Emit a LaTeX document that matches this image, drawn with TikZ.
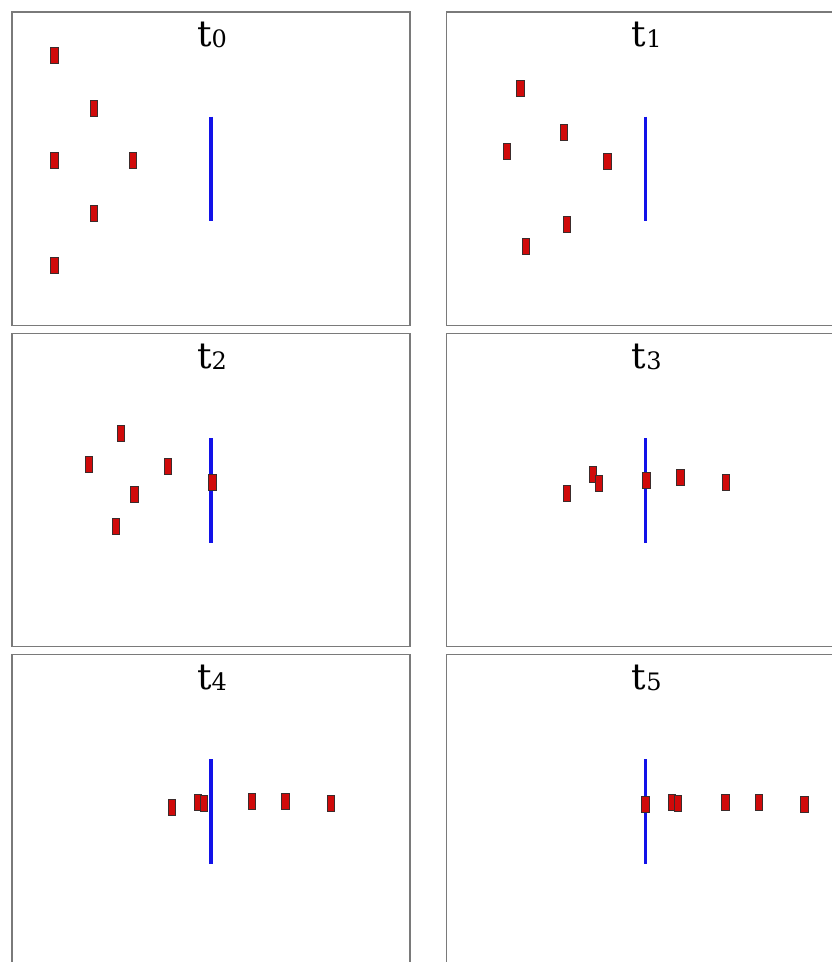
\documentclass[tikz,border=0pt]{standalone}
\usepackage{fontspec}
\newfontfamily\stampfont{DejaVu Serif}
\definecolor{agentFill}{HTML}{D00A0A}
\definecolor{agentEdge}{HTML}{3C2C2C}
\definecolor{wallBlue}{HTML}{1212E8}
\definecolor{frameGray}{HTML}{7A7A7A}
\newcommand{\FigTitle}{\stampfont\fontsize{36}{40}\selectfont}
\newcommand{\tsub}[1]{t\raisebox{-1pt}{\fontsize{24}{26}\selectfont #1}}

\begin{document}
\begin{tikzpicture}[
  x=1pt, y=-1pt,
  panelbox/.style = {draw=frameGray, line width=1.1pt},
  stamp/.style    = {anchor=base, font=\FigTitle, inner sep=0pt},
  wall/.style     = {draw=wallBlue, line width=3.6pt},
  agent/.style    = {draw=agentEdge, fill=agentFill, line width=0.7pt,
                     minimum width=7.4pt, minimum height=16pt, inner sep=0pt},
]
\path[use as bounding box] (0,0) rectangle (832,962);
\clip (0,0) rectangle (832,962);

% ---------------------------------------------------------------- t0
\begin{scope}[shift={(12,12)}]
  \draw[panelbox] (0,0) rectangle (398,313.5);
  \node[stamp] (t0) at (200,34.7) {\tsub{0}};
  \draw[wall] (198.7,104.7) -- (198.7,209.2);
  \foreach \x/\y [count=\i] in {42.3/43.7, 81.7/96, 42.3/148.3, 121/148.3, 81.7/201, 42.3/253.3} {
    \node[agent] (a0-\i) at (\x,\y) {};
  }
\end{scope}

% ---------------------------------------------------------------- t1
\begin{scope}[shift={(446.7,12)}]
  \draw[panelbox] (0,0) rectangle (398,313.5);
  \node[stamp] (t1) at (200,34.7) {\tsub{1}};
  \draw[wall] (198.7,104.7) -- (198.7,209.2);
  \foreach \x/\y [count=\i] in {73.6/76.3, 117.3/120.3, 60/139.7, 160.6/149.3, 120.3/212.7, 79.3/234.7} {
    \node[agent] (a1-\i) at (\x,\y) {};
  }
\end{scope}

% ---------------------------------------------------------------- t2
\begin{scope}[shift={(12,333.3)}]
  \draw[panelbox] (0,0) rectangle (398,313.5);
  \node[stamp] (t2) at (200,34.7) {\tsub{2}};
  \draw[wall] (198.7,104.7) -- (198.7,209.2);
  \foreach \x/\y [count=\i] in {109/100.3, 76.7/130.7, 155.7/133.3, 200.3/149, 122.3/160.7, 103.7/192.7} {
    \node[agent] (a2-\i) at (\x,\y) {};
  }
\end{scope}

% ---------------------------------------------------------------- t3
\begin{scope}[shift={(446.7,333.3)}]
  \draw[panelbox] (0,0) rectangle (398,313.5);
  \node[stamp] (t3) at (200,34.7) {\tsub{3}};
  \draw[wall] (198.7,104.7) -- (198.7,209.2);
  \foreach \x/\y [count=\i] in {120.3/159.6, 146.3/141.3, 152/150, 199.6/146.6, 233.6/144.3, 279/149} {
    \node[agent] (a3-\i) at (\x,\y) {};
  }
\end{scope}

% ---------------------------------------------------------------- t4
\begin{scope}[shift={(12,654.3)}]
  \draw[panelbox] (0,0) rectangle (398,313.5);
  \node[stamp] (t4) at (200,34.7) {\tsub{4}};
  \draw[wall] (198.7,104.7) -- (198.7,209.2);
  \foreach \x/\y [count=\i] in {159.7/152.7, 186/147.7, 192/148.7, 239.7/146.7, 273.3/146.7, 318.7/149} {
    \node[agent] (a4-\i) at (\x,\y) {};
  }
\end{scope}

% ---------------------------------------------------------------- t5
\begin{scope}[shift={(446.7,654.3)}]
  \draw[panelbox] (0,0) rectangle (398,313.5);
  \node[stamp] (t5) at (200,34.7) {\tsub{5}};
  \draw[wall] (198.7,104.7) -- (198.7,209.2);
  \foreach \x/\y [count=\i] in {198.6/150.4, 225/148.4, 231.3/148.7, 278.6/148, 312.3/148.4, 357.6/149.7} {
    \node[agent] (a5-\i) at (\x,\y) {};
  }
\end{scope}

\end{tikzpicture}
\end{document}
